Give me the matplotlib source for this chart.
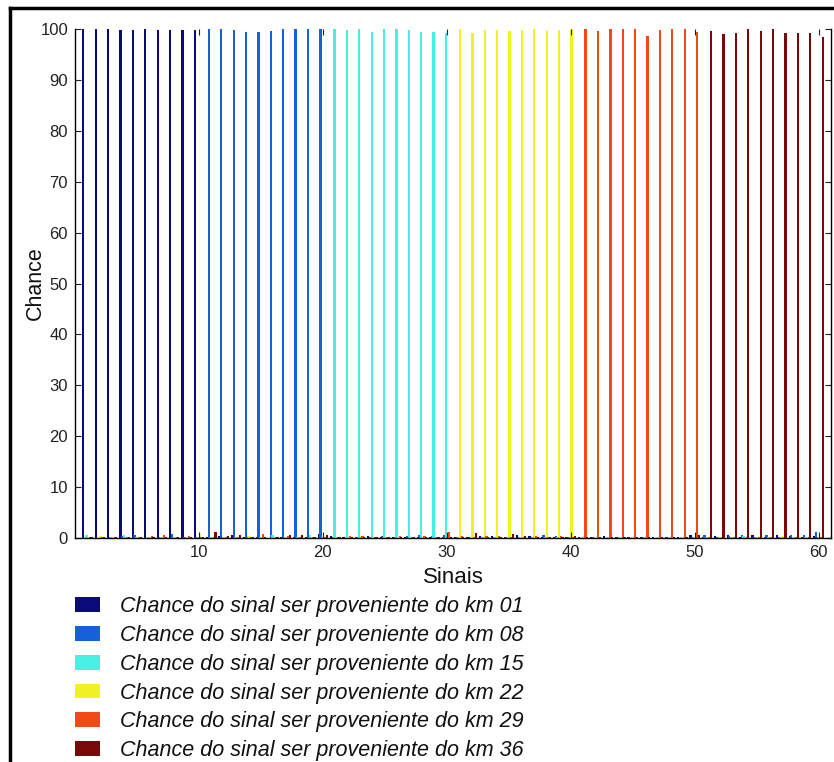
import numpy as np
import matplotlib
matplotlib.use("Agg")
from matplotlib import pyplot as plt
from matplotlib.lines import Line2D

plt.rcParams['font.family'] = ['Liberation Sans', 'DejaVu Sans']

# sinais 1..60
sinais = np.arange(1, 61)

legendas = [
    "Chance do sinal ser proveniente do km 01",
    "Chance do sinal ser proveniente do km 08",
    "Chance do sinal ser proveniente do km 15",
    "Chance do sinal ser proveniente do km 22",
    "Chance do sinal ser proveniente do km 29",
    "Chance do sinal ser proveniente do km 36",
]
cores = ['#0a0a7a', '#1461d8', '#46f0e2', '#f2f222', '#f24a16', '#7a0808']

# valor dominante de cada sinal
dominante = [
    100.0, 100.0, 100.0, 99.9, 99.8, 100.0, 99.9, 99.9, 99.9, 99.9,
    100.0, 100.0, 99.8, 99.5, 99.5, 99.7, 100.0, 100.0, 100.0, 100.0,
    100.0, 99.8, 100.0, 99.5, 100.0, 100.0, 99.8, 99.5, 99.4, 99.2,
    100.0, 99.3, 99.8, 99.8, 99.7, 99.8, 100.0, 99.7, 99.8, 100.0,
    100.0, 99.7, 100.0, 100.0, 100.0, 98.7, 99.8, 100.0, 100.0, 99.5,
    99.7, 99.1, 99.3, 100.0, 99.7, 100.0, 99.2, 99.2, 99.3, 98.5,
]

# valores pequenos (chance residual) por serie
km01 = [0.0, 0.1, 0.0, 0.0, 0.0, 0.0, 0.0, 0.0, 0.0, 0.0,
        0.1, 0.4, 0.5, 0.1, 0.1, 0.0, 0.1, 0.2, 0.1, 0.8,
        0.3, 0.1, 0.1, 0.4, 0.1, 0.1, 0.2, 0.1, 0.1, 0.2,
        0.1, 0.2, 0.4, 0.3, 0.1, 0.5, 0.3, 0.1, 0.2, 0.1,
        0.1, 0.1, 0.4, 0.1, 0.1, 0.2, 0.1, 0.1, 0.1, 0.6,
        0.2, 0.3, 0.6, 0.2, 0.5, 0.1, 0.5, 0.3, 0.2, 0.4]
km08 = [0.0, 0.0, 0.1, 0.4, 0.5, 0.0, 0.1, 0.8, 0.1, 0.1,
        0.0, 0.0, 0.0, 0.0, 0.0, 0.0, 0.0, 0.0, 0.0, 0.0,
        0.1, 0.0, 0.1, 0.1, 0.4, 0.1, 0.3, 0.5, 0.4, 0.5,
        0.1, 0.1, 0.1, 0.1, 0.1, 0.1, 0.1, 0.5, 0.4, 0.1,
        0.0, 0.1, 0.0, 0.1, 0.0, 0.1, 0.0, 0.1, 0.0, 0.1,
        0.5, 0.2, 0.3, 0.6, 0.2, 0.5, 0.2, 0.5, 0.5, 1.2]
km15 = [0.6, 0.0, 0.1, 0.5, 0.1, 0.1, 0.1, 0.1, 0.1, 0.1,
        0.1, 0.1, 0.1, 0.3, 0.1, 0.5, 0.1, 0.1, 0.6, 0.1,
        0.0, 0.0, 0.0, 0.0, 0.0, 0.0, 0.0, 0.0, 0.0, 0.0,
        0.1, 0.1, 0.1, 0.1, 0.1, 0.1, 0.1, 0.1, 0.1, 0.1,
        0.1, 0.1, 0.1, 0.1, 0.1, 0.1, 0.1, 0.1, 0.1, 0.1,
        0.1, 0.1, 0.1, 0.4, 0.1, 0.1, 0.1, 0.1, 0.1, 0.1]
km22 = [0.1, 0.3, 0.1, 0.1, 0.1, 0.2, 0.1, 0.1, 0.1, 0.6,
        0.1, 0.1, 0.1, 0.3, 0.1, 0.1, 0.1, 0.1, 0.1, 0.1,
        0.1, 0.1, 0.3, 0.1, 0.1, 0.1, 0.1, 0.1, 0.1, 0.1,
        0.0, 0.0, 0.0, 0.0, 0.0, 0.0, 0.0, 0.0, 0.0, 0.0,
        0.3, 0.1, 0.2, 0.1, 0.1, 0.3, 0.1, 0.1, 0.1, 0.1,
        0.1, 0.1, 0.1, 0.1, 0.1, 0.1, 0.3, 0.1, 0.1, 0.1]
km29 = [0.1, 0.1, 0.1, 0.1, 0.1, 0.4, 0.5, 0.1, 0.4, 0.1,
        0.1, 0.1, 0.1, 0.1, 0.8, 0.1, 0.4, 0.1, 0.1, 0.1,
        0.1, 0.4, 0.3, 0.1, 0.1, 0.4, 0.1, 0.4, 0.1, 1.2,
        0.4, 0.2, 0.3, 0.3, 0.1, 0.1, 0.4, 0.1, 0.4, 0.1,
        0.0, 0.0, 0.0, 0.0, 0.0, 0.0, 0.0, 0.0, 0.0, 0.0,
        0.1, 0.1, 0.1, 0.1, 0.1, 0.1, 0.1, 0.1, 0.1, 0.1]
km36 = [0.1, 0.1, 0.1, 0.1, 0.1, 0.1, 0.1, 0.1, 0.1, 0.1,
        1.2, 0.3, 0.6, 0.1, 0.1, 0.1, 0.6, 0.6, 0.1, 0.5,
        0.1, 0.1, 0.1, 0.1, 0.1, 0.1, 0.1, 0.1, 0.1, 0.1,
        0.2, 1.0, 0.1, 0.1, 0.7, 0.3, 0.1, 0.1, 0.1, 0.3,
        0.1, 0.1, 0.2, 0.1, 0.1, 0.1, 0.1, 0.1, 0.1, 0.6,
        0.0, 0.0, 0.0, 0.0, 0.0, 0.0, 0.0, 0.0, 0.0, 0.0]

series = [np.array(s, dtype=float) for s in (km01, km08, km15, km22, km29, km36)]
# cada bloco de 10 sinais pertence a um km
for i, s in enumerate(series):
    s[i * 10:(i + 1) * 10] = dominante[i * 10:(i + 1) * 10]

fig = plt.figure(figsize=(8.34, 7.62), dpi=100)
ax = fig.add_axes([75 / 834, 1 - 538 / 762, 756 / 834, 509 / 762])

passo = 0.8 / 6
largura = 0.18
for i, s in enumerate(series):
    ax.bar(sinais + (i - 2.5) * passo, s, width=largura, color=cores[i],
           linewidth=0, label=legendas[i])

ax.set_xlim(0, 61)
ax.set_ylim(0, 100)
ax.set_xticks(range(10, 61, 10))
ax.set_yticks(range(0, 101, 10))
ax.tick_params(direction='in', top=True, right=True, length=4, width=0.8,
               labelsize=12, colors='#222222', pad=5)
ax.spines['top'].set_visible(False)
for sp in ('left', 'right', 'bottom'):
    ax.spines[sp].set_linewidth(1.0)
ax.set_xlabel("Sinais", fontsize=16, labelpad=5, color='#111111')
ax.set_ylabel("Chance", fontsize=15.5, labelpad=-4, color='#111111')

leg = ax.legend(loc='upper left', bbox_to_anchor=(75 / 834, 1 - 596 / 762),
                bbox_transform=fig.transFigure, frameon=False, borderpad=0,
                borderaxespad=0,
                prop={'style': 'italic', 'size': 15.5}, handlelength=1.15,
                handleheight=0.68, labelspacing=0.365, handletextpad=0.92)
for t in leg.get_texts():
    t.set_color('#111111')

# moldura da figura (cortada a direita e embaixo)
fig.add_artist(Line2D([10 / 834, 10 / 834], [0, 1 - 8 / 762], color='black',
                      linewidth=2.5, transform=fig.transFigure))
fig.add_artist(Line2D([10 / 834, 1], [1 - 8 / 762, 1 - 8 / 762], color='black',
                      linewidth=2.5, transform=fig.transFigure))

fig.savefig("out.png", dpi=100)
